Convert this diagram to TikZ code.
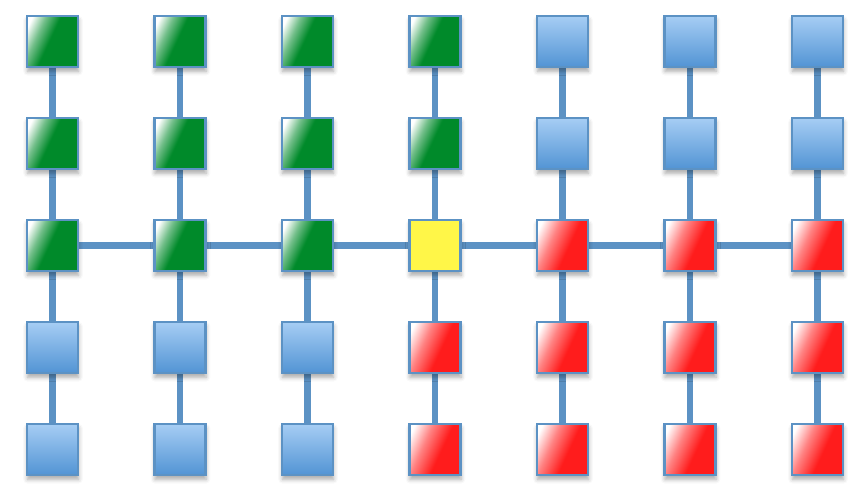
\documentclass[tikz,border=0pt]{standalone}
\usetikzlibrary{shadows.blur,backgrounds}

\definecolor{linkblue}{RGB}{92,146,196}
\definecolor{cellgreen}{RGB}{0,138,42}
\definecolor{cellred}{RGB}{255,28,28}
\definecolor{cellyellow}{RGB}{255,246,72}
\definecolor{bluetop}{RGB}{166,205,244}
\definecolor{bluebot}{RGB}{82,148,212}

\pgfdeclarehorizontalshading{greensheen}{100bp}{color(0bp)=(white); color(22bp)=(white); color(34bp)=(white!45!cellgreen); color(47bp)=(cellgreen); color(100bp)=(cellgreen)}
\pgfdeclarehorizontalshading{redsheen}{100bp}{color(0bp)=(white); color(22bp)=(white); color(38bp)=(white!45!cellred); color(56bp)=(cellred); color(100bp)=(cellred)}

\tikzset{
    cell/.style={draw=linkblue, line width=1.2pt, minimum size=1.02cm, inner sep=0pt,
        blur shadow={shadow xshift=0.3pt, shadow yshift=-2.4pt, shadow blur radius=2.5pt, shadow opacity=35}},
    gcell/.style={cell, shading=greensheen, shading angle=-25},
    rcell/.style={cell, shading=redsheen, shading angle=-25},
    bcell/.style={cell, top color=bluetop, bottom color=bluebot},
    ycell/.style={cell, fill=cellyellow},
    link/.style={draw=linkblue, line width=3.5pt}
}

\begin{document}
\begin{tikzpicture}[x=0.02cm, y=-0.02cm]
    \useasboundingbox (0,0) rectangle (865,498);

    % place the cells, one row at a time
        \foreach \row [count=\r] in {{g,g,g,g,b,b,b},{g,g,g,g,b,b,b},{g,g,g,y,r,r,r},{b,b,b,r,r,r,r},{b,b,b,r,r,r,r}}
            \foreach \s [count=\c] in \row
                \node[\s cell] (n\c-\r) at ({52.5+127.5*(\c-1)},{41.5+102*(\r-1)}) {};

    % links behind the cells
    \begin{scope}[on background layer]
        \foreach \c in {1,...,7}
            \foreach \r/\rn in {1/2,2/3,3/4,4/5}
                \draw[link] (n\c-\r) -- (n\c-\rn);
        \foreach \c/\cn in {1/2,2/3,3/4,4/5,5/6,6/7}
            \draw[link] (n\c-3) -- (n\cn-3);
    \end{scope}

\end{tikzpicture}
\end{document}
